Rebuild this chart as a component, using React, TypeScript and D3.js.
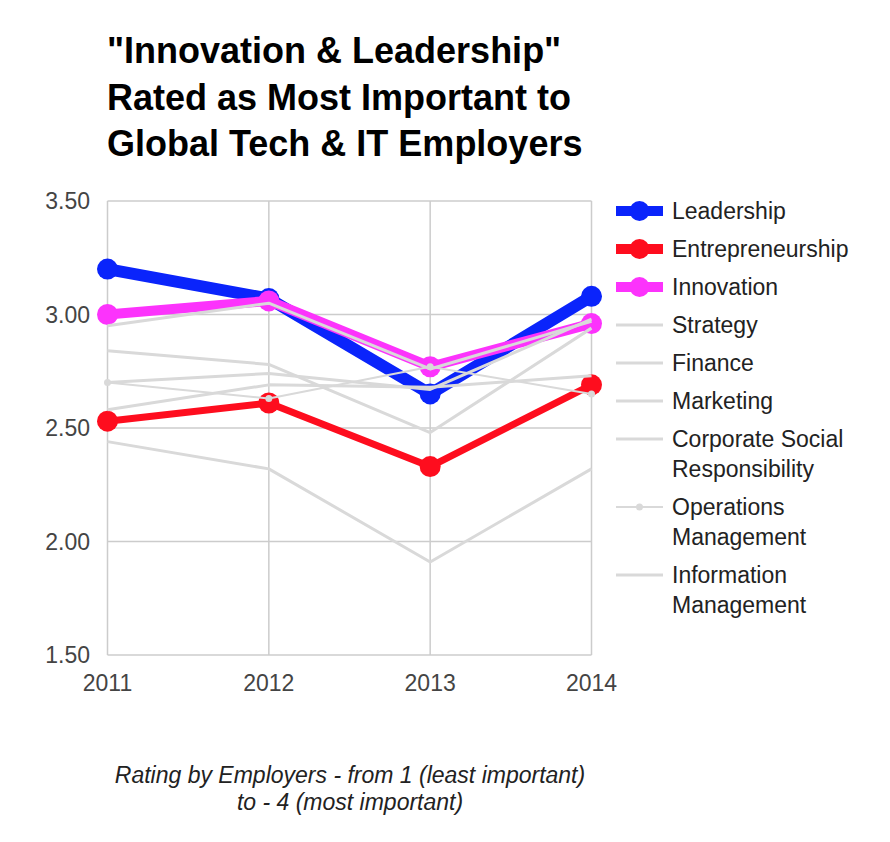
import React from "react";
import * as d3 from "d3";

const years = ["2011", "2012", "2013", "2014"];
const yTicks = [1.5, 2.0, 2.5, 3.0, 3.5];

const leadership = [3.2, 3.07, 2.65, 3.08];
const entrepreneurship = [2.53, 2.61, 2.33, 2.69];
const innovation = [3.0, 3.06, 2.77, 2.96];
const strategy = [2.95, 3.05, 2.76, 2.97];
const finance = [2.84, 2.78, 2.48, 2.94];
const marketing = [2.7, 2.74, 2.67, 2.98];
const csr = [2.58, 2.69, 2.68, 2.73];
const operations = [2.7, 2.63, 2.77, 2.65];
const information = [2.44, 2.32, 1.91, 2.32];

const titleLines = ['"Innovation & Leadership"', "Rated as Most Important to", "Global Tech & IT Employers"];
const subtitleLines = ["Rating by Employers - from 1 (least important)", "to - 4 (most important)"];

type S = { name: string[]; values: number[]; color: string; width: number; r: number };

const series: S[] = [
  { name: ["Leadership"], values: leadership, color: "#0a24fb", width: 12, r: 10.5 },
  { name: ["Entrepreneurship"], values: entrepreneurship, color: "#fe0d1e", width: 7, r: 10.5 },
  { name: ["Innovation"], values: innovation, color: "#fc33fc", width: 10, r: 10.5 },
  { name: ["Strategy"], values: strategy, color: "#d9d9d9", width: 3, r: 0 },
  { name: ["Finance"], values: finance, color: "#d9d9d9", width: 3, r: 0 },
  { name: ["Marketing"], values: marketing, color: "#d9d9d9", width: 3, r: 0 },
  { name: ["Corporate Social", "Responsibility"], values: csr, color: "#d9d9d9", width: 3, r: 0 },
  { name: ["Operations", "Management"], values: operations, color: "#d9d9d9", width: 2, r: 3.5 },
  { name: ["Information", "Management"], values: information, color: "#d9d9d9", width: 3, r: 0 },
];

const FONT = "'Liberation Sans', Arial, Helvetica, sans-serif";

export default function App() {
  const W = 890, H = 842;
  const x = d3.scalePoint<string>().domain(years).range([107.5, 591.5]);
  const y = d3.scaleLinear().domain([1.5, 3.5]).range([655, 201]);
  const line = d3
    .line<number>()
    .x((_, i) => x(years[i]) as number)
    .y((v) => y(v));

  const legendX = 616;
  let ly = 211;
  const legendRows = series.map((s) => {
    const row = { s, y: ly };
    ly += 38 + (s.name.length - 1) * 30;
    return row;
  });

  return (
    <svg width={W} height={H} style={{ position: "absolute", left: 0, top: 0, background: "#fff" }} fontFamily={FONT}>
      {titleLines.map((t, i) => (
        <text key={t} x={107} y={63 + i * 46.5} fontSize={36} fontWeight="bold" fill="#000">
          {t}
        </text>
      ))}
      {yTicks.map((t) => (
        <g key={t}>
          <line x1={107.5} x2={591.5} y1={y(t)} y2={y(t)} stroke="#cccccc" strokeWidth={1.5} />
          <text x={90} y={y(t)} dy="0.35em" textAnchor="end" fontSize={23} fill="#444">
            {d3.format(".2f")(t)}
          </text>
        </g>
      ))}
      {years.map((yr) => (
        <g key={yr}>
          <line x1={x(yr)} x2={x(yr)} y1={201} y2={655} stroke="#cccccc" strokeWidth={1.5} />
          <text x={x(yr)} y={691} textAnchor="middle" fontSize={23} fill="#444">
            {yr}
          </text>
        </g>
      ))}
      {series.map((s) => (
        <g key={s.name.join(" ")}>
          <path d={line(s.values) || ""} fill="none" stroke={s.color} strokeWidth={s.width} strokeLinejoin="round" />
          {s.r > 0 &&
            s.values.map((v, i) => <circle key={i} cx={x(years[i])} cy={y(v)} r={s.r} fill={s.color} />)}
        </g>
      ))}
      {legendRows.map(({ s, y: ry }) => (
        <g key={"lg" + s.name.join(" ")}>
          <line x1={legendX} x2={legendX + 47} y1={ry} y2={ry} stroke={s.color} strokeWidth={s.r > 5 ? 10 : s.width} />
          {s.r > 0 && <circle cx={legendX + 23.5} cy={ry} r={s.r > 5 ? 10 : 3.5} fill={s.color} />}
          {s.name.map((n, j) => (
            <text key={n} x={672} y={ry + j * 30} dy="0.35em" fontSize={23} fill="#222">
              {n}
            </text>
          ))}
        </g>
      ))}
      {subtitleLines.map((t, i) => (
        <text key={t} x={350} y={783 + i * 27} textAnchor="middle" fontSize={23} fontStyle="italic" fill="#222">
          {t}
        </text>
      ))}
    </svg>
  );
}
